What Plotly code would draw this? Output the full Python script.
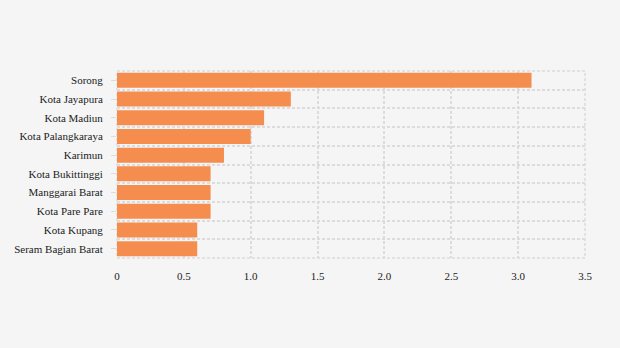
import plotly.graph_objects as go

categories = ["Sorong", "Kota Jayapura", "Kota Madiun", "Kota Palangkaraya", "Karimun",
              "Kota Bukittinggi", "Manggarai Barat", "Kota Pare Pare", "Kota Kupang",
              "Seram Bagian Barat"]
values = [3.1, 1.3, 1.1, 1.0, 0.8, 0.7, 0.7, 0.7, 0.6, 0.6]
x_tickvals = [0, 0.5, 1.0, 1.5, 2.0, 2.5, 3.0, 3.5]
x_ticktext = ["0", "0.5", "1.0", "1.5", "2.0", "2.5", "3.0", "3.5"]

positions = list(range(len(categories)))
boundaries = [p - 0.5 for p in positions] + [len(categories) - 0.5]

BG = "#f5f5f5"
GRID = "#dcdcdc"

fig = go.Figure(go.Bar(
    x=values, y=positions, orientation="h",
    marker=dict(color="#f58d4f", line=dict(width=0)),
    width=0.8,
))

# dashed frame around the plot area (edge grid lines)
fig.add_shape(type="rect", xref="paper", yref="paper", x0=0, x1=1, y0=0, y1=1,
              line=dict(color=GRID, width=1.5, dash="3px,2px"), layer="below")

fig.update_layout(
    width=620, height=348,
    margin=dict(l=117, r=35, t=71, b=90),
    paper_bgcolor=BG, plot_bgcolor=BG,
    font=dict(family="Times New Roman, Liberation Serif, serif", size=11, color="#222"),
    showlegend=False,
    xaxis=dict(
        range=[0, 3.5], tickvals=x_tickvals, ticktext=x_ticktext,
        showgrid=True, gridcolor=GRID, gridwidth=1.5, griddash="3px,2px",
        zeroline=False, showline=False, ticks="", ticklabelstandoff=10,
    ),
    yaxis=dict(
        range=[len(categories) - 0.5, -0.5],
        tickvals=positions, ticktext=categories,
        showgrid=False, zeroline=False, showline=False,
        ticks="outside", ticklen=5, tickcolor=GRID, tickwidth=1,
        ticklabelstandoff=6,
        minor=dict(tickvals=boundaries, showgrid=True, gridcolor=GRID,
                   gridwidth=1.5, griddash="3px,2px", ticks=""),
    ),
)

fig.write_html("out.html")
